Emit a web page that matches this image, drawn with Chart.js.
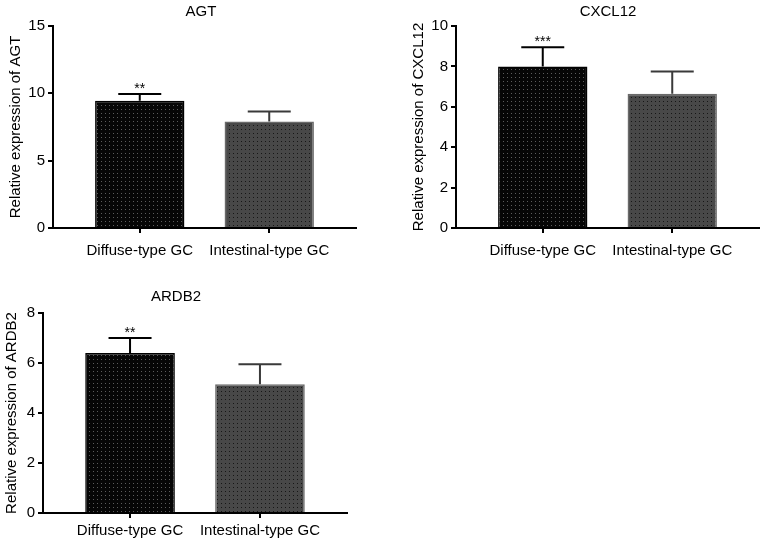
<!DOCTYPE html>
<html>
<head>
<meta charset="utf-8">
<script src="https://cdn.jsdelivr.net/npm/chart.js@4.4.0/dist/chart.umd.min.js"></script>
<style>
  body { margin: 0; background: #fff; }
  #wrap { position: relative; width: 765px; height: 544px; }
  canvas { position: absolute; }
</style>
</head>
<body>
<div id="wrap">
  <canvas id="agt" width="382" height="270" style="left:0;top:0"></canvas>
  <canvas id="cxcl12" width="383" height="270" style="left:382px;top:0"></canvas>
  <canvas id="ardb2" width="382" height="274" style="left:0;top:270px"></canvas>
</div>
<script>
// values (mean and upper error)
var categories = ['Diffuse-type GC', 'Intestinal-type GC'];

var agtMean = [9.45, 7.9];
var agtSd = [0.5, 0.75];
var agtStars = ['**', ''];
var agtTicks = [0, 5, 10, 15];

var cxcl12Mean = [8.0, 6.65];
var cxcl12Sd = [0.95, 1.1];
var cxcl12Stars = ['***', ''];
var cxcl12Ticks = [0, 2, 4, 6, 8, 10];

var ardb2Mean = [6.4, 5.15];
var ardb2Sd = [0.6, 0.8];
var ardb2Stars = ['**', ''];
var ardb2Ticks = [0, 2, 4, 6, 8];

var FONT = '"Liberation Sans", Arial, Helvetica, sans-serif';

function dots(bg, dot) {
    var c = document.createElement('canvas');
    c.width = 4;
    c.height = 4;
    var g = c.getContext('2d');
    g.fillStyle = bg;
    g.fillRect(0, 0, 4, 4);
    g.fillStyle = dot;
    g.fillRect(1, 1, 1, 1);
    return g.createPattern(c, 'repeat');
}

// draws error bars, significance stars and the panel title
function extras(opt) {
    return {
        id: 'extras',
        afterDatasetsDraw: function (chart) {
            var ctx = chart.ctx, x = chart.scales.x, y = chart.scales.y;
            var errColors = ['#000', '#3a3a3a'];
            ctx.save();
            opt.mean.forEach(function (m, i) {
                var px = x.getPixelForValue(i + 1);
                var y0 = y.getPixelForValue(m);
                var y1 = y.getPixelForValue(m + opt.sd[i]);
                ctx.strokeStyle = errColors[i];
                ctx.lineWidth = 2;
                ctx.beginPath();
                ctx.moveTo(px, y0);
                ctx.lineTo(px, y1);
                ctx.moveTo(px - 21.5, y1);
                ctx.lineTo(px + 21.5, y1);
                ctx.stroke();
                if (opt.stars[i]) {
                    ctx.fillStyle = '#000';
                    ctx.font = '14px ' + FONT;
                    ctx.textAlign = 'center';
                    ctx.textBaseline = 'alphabetic';
                    ctx.fillText(opt.stars[i], px, y1 - 1);
                }
            });
            ctx.fillStyle = '#000';
            ctx.font = '15px ' + FONT;
            ctx.textAlign = 'center';
            ctx.textBaseline = 'middle';
            ctx.fillText(opt.name, opt.titleX, opt.titleY);
            ctx.restore();
        }
    };
}

function makePanel(id, opt) {
    var tickFont = {family: FONT, size: 15};
    new Chart(document.getElementById(id), {
        type: 'bar',
        data: {
            datasets: [{
                data: opt.mean.map(function (v, i) { return {x: i + 1, y: v}; }),
                backgroundColor: [dots('#060606', '#5c5c5c'), dots('#484848', '#161616')],
                borderColor: ['#000', '#6a6a6a'],
                borderWidth: 1.5,
                barPercentage: 0.69,
                categoryPercentage: 1
            }]
        },
        options: {
            responsive: false,
            animation: false,
            layout: {padding: {top: opt.top, right: opt.right, left: 0, bottom: 0}},
            plugins: {legend: {display: false}, tooltip: {enabled: false}},
            scales: {
                x: {
                    type: 'linear',
                    min: 0.33,
                    max: 2.67,
                    offset: false,
                    afterBuildTicks: function (s) {
                        s.ticks = categories.map(function (c, i) { return {value: i + 1}; });
                    },
                    afterFit: function (s) { s.height = opt.xHeight; },
                    ticks: {
                        callback: function (v) { return categories[v - 1]; },
                        font: tickFont,
                        color: '#000',
                        padding: opt.xPad,
                        autoSkip: false,
                        maxRotation: 0
                    },
                    grid: {drawOnChartArea: false, offset: false, tickLength: 5, color: '#000', lineWidth: 2},
                    border: {color: '#000', width: 2}
                },
                y: {
                    min: 0,
                    max: opt.ticks[opt.ticks.length - 1],
                    afterBuildTicks: function (s) {
                        s.ticks = opt.ticks.map(function (v) { return {value: v}; });
                    },
                    afterFit: function (s) { s.width = opt.yWidth; },
                    ticks: {font: tickFont, color: '#000', padding: 3},
                    grid: {drawOnChartArea: false, tickLength: 5, color: '#000', lineWidth: 2},
                    border: {color: '#000', width: 2},
                    title: {
                        display: true,
                        text: 'Relative expression of ' + opt.name,
                        font: tickFont,
                        color: '#000',
                        padding: {top: opt.yTitlePad, bottom: 0}
                    }
                }
            }
        },
        plugins: [extras(opt)]
    });
}

makePanel('agt', {
    name: 'AGT', mean: agtMean, sd: agtSd, stars: agtStars, ticks: agtTicks,
    top: 26, right: 26, yWidth: 53, xHeight: 42, xPad: 9, yTitlePad: 6.5,
    titleX: 201, titleY: 12
});
makePanel('cxcl12', {
    name: 'CXCL12', mean: cxcl12Mean, sd: cxcl12Sd, stars: cxcl12Stars, ticks: cxcl12Ticks,
    top: 26, right: 6, yWidth: 74, xHeight: 42, xPad: 9, yTitlePad: 27.5,
    titleX: 226, titleY: 12
});
makePanel('ardb2', {
    name: 'ARDB2', mean: ardb2Mean, sd: ardb2Sd, stars: ardb2Stars, ticks: ardb2Ticks,
    top: 43, right: 35, yWidth: 43, xHeight: 31, xPad: 4, yTitlePad: 3,
    titleX: 176, titleY: 27
});
</script>
</body>
</html>
